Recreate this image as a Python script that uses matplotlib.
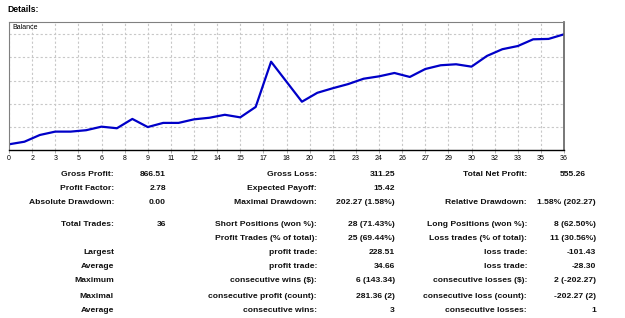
import numpy as np
import matplotlib.pyplot as plt

# balance after each trade (start = 10000)
trades = np.arange(0, 37)
balance = 10000 + np.array([
    0, 13, 47, 64, 64, 71, 89, 81, 128, 87,
    108, 108, 126, 134, 149, 136, 188.5, 417, 316, 215,
    260, 283, 304, 331, 343, 360, 340, 380, 399, 404,
    392, 446, 480, 496, 530, 532, 555.26])

tick_pos = np.arange(25) * 1.5
tick_labels = [str(int(np.floor(t + 0.5))) for t in tick_pos]

# statistics table: (label, value, y pixel) for each column
col1 = [("Gross Profit:", "866.51", 175), ("Profit Factor:", "2.78", 189),
        ("Absolute Drawdown:", "0.00", 203), ("Total Trades:", "36", 224),
        ("Largest", "", 253), ("Average", "", 267), ("Maximum", "", 281),
        ("Maximal", "", 296), ("Average", "", 310)]
col2 = [("Gross Loss:", "311.25", 175), ("Expected Payoff:", "15.42", 189),
        ("Maximal Drawdown:", "202.27 (1.58%)", 203),
        ("Short Positions (won %):", "28 (71.43%)", 224),
        ("Profit Trades (% of total):", "25 (69.44%)", 239),
        ("profit trade:", "228.51", 253), ("profit trade:", "34.66", 267),
        ("consecutive wins ($):", "6 (143.34)", 281),
        ("consecutive profit (count):", "281.36 (2)", 296),
        ("consecutive wins:", "3", 310)]
col3 = [("Total Net Profit:", "555.26", 175), ("", "", 189),
        ("Relative Drawdown:", "1.58% (202.27)", 203),
        ("Long Positions (won %):", "8 (62.50%)", 224),
        ("Loss trades (% of total):", "11 (30.56%)", 239),
        ("loss trade:", "-101.43", 253), ("loss trade:", "-28.30", 267),
        ("consecutive losses ($):", "2 (-202.27)", 281),
        ("consecutive loss (count):", "-202.27 (2)", 296),
        ("consecutive losses:", "1", 310)]

W, H = 625, 318
fig = plt.figure(figsize=(W / 100, H / 100), dpi=100)
fig.patch.set_facecolor("white")
plt.rcParams["font.family"] = ["Liberation Sans", "DejaVu Sans"]

ax = fig.add_axes([9 / W, 1 - 150 / H, (564 - 9) / W, (150 - 21.7) / H])
ax.plot(trades, balance, color="#0000c8", lw=1.6, solid_joinstyle="round")

ymin, ymax = 10000 - 28.8, 10000 + 618.9
ax.set_xlim(0, 36)
ax.set_ylim(ymin, ymax)
ax.set_xticks(tick_pos)
ax.set_xticklabels(tick_labels, fontsize=5)
ax.set_yticks(ymin + np.arange(1, 6) * 116.8)
ax.set_yticklabels([])
ax.tick_params(axis="y", length=0)
ax.tick_params(axis="x", length=2, width=0.6, color="#a0a0a0", pad=1.5)
ax.grid(True, color="#c8c8c8", linestyle=(0, (2, 2)), lw=0.8)
for side in ["left", "top"]:
    ax.spines[side].set_color("#808080")
    ax.spines[side].set_linewidth(0.8)
ax.spines["bottom"].set_color("black")
ax.spines["bottom"].set_linewidth(1.0)
ax.spines["right"].set_color("#606060")
ax.spines["right"].set_linewidth(1.2)
ax.text(0.006, 0.955, "Balance", transform=ax.transAxes, fontsize=5,
        va="center", ha="left")

fig.text(7 / W, 1 - 10 / H, "Details:", fontsize=6.2, fontweight="bold",
         va="center", ha="left")


def put(x, y, s):
    fig.text(x / W, 1 - y / H, s, fontsize=6.1, fontweight="bold",
             va="center", ha="right", color="#101010")


for lab, val, y in col1:
    put(114, y, lab)
    put(166, y, val)
for lab, val, y in col2:
    put(317, y, lab)
    put(395, y, val)
for lab, val, y in col3:
    put(527, y, lab)
    put(586 if lab == "Total Net Profit:" else 596, y, val)

fig.savefig("out.png", dpi=100, facecolor="white")
